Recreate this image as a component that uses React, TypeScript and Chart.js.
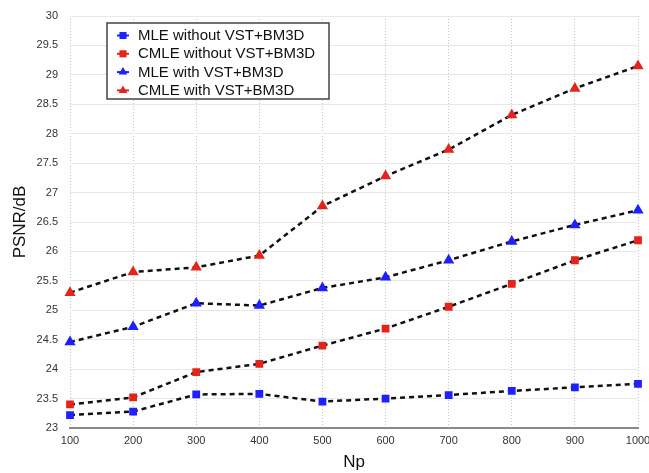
import React, { useEffect, useRef } from 'react';
import { Chart, registerables } from 'chart.js';

Chart.register(...registerables);

const npLabels = ['100', '200', '300', '400', '500', '600', '700', '800', '900', '1000'];
const mleWithout = [23.22, 23.28, 23.57, 23.58, 23.45, 23.5, 23.56, 23.63, 23.69, 23.75];
const cmleWithout = [23.4, 23.52, 23.95, 24.09, 24.4, 24.69, 25.06, 25.45, 25.85, 26.19];
const mleWith = [24.46, 24.72, 25.12, 25.08, 25.38, 25.56, 25.85, 26.17, 26.45, 26.7];
const cmleWith = [25.3, 25.65, 25.73, 25.93, 26.77, 27.28, 27.73, 28.32, 28.77, 29.15];
const seriesNames = ['MLE without VST+BM3D', 'CMLE without VST+BM3D', 'MLE with VST+BM3D', 'CMLE with VST+BM3D'];

const BLUE = '#1f1fff';
const RED = '#e4231b';
const FONT = '"Liberation Sans", Arial, Helvetica, sans-serif';

function drawMarker(ctx: CanvasRenderingContext2D, style: string, x: number, y: number, r: number, color: string) {
  ctx.fillStyle = color;
  ctx.beginPath();
  if (style === 'rect') {
    const s = r * Math.SQRT1_2;
    ctx.rect(x - s, y - s, 2 * s, 2 * s);
  } else {
    ctx.moveTo(x, y - r);
    ctx.lineTo(x + r * 0.866, y + r * 0.5);
    ctx.lineTo(x - r * 0.866, y + r * 0.5);
    ctx.closePath();
  }
  ctx.fill();
}

const boxLegend = {
  id: 'boxLegend',
  afterDraw(chart: any) {
    const ctx: CanvasRenderingContext2D = chart.ctx;
    const x0 = 107, y0 = 23, w = 222, h = 76;
    ctx.save();
    ctx.fillStyle = '#ffffff';
    ctx.fillRect(x0, y0, w, h);
    ctx.strokeStyle = '#444444';
    ctx.lineWidth = 1.5;
    ctx.strokeRect(x0, y0, w, h);
    chart.data.datasets.forEach((ds: any, i: number) => {
      const cy = y0 + 12.5 + i * 18.3;
      const cx = 123;
      ctx.strokeStyle = ds.pointBackgroundColor;
      ctx.lineWidth = 2;
      ctx.beginPath();
      ctx.moveTo(cx - 6, cy);
      ctx.lineTo(cx + 6, cy);
      ctx.stroke();
      drawMarker(ctx, ds.pointStyle, cx, cy, 5, ds.pointBackgroundColor);
      ctx.fillStyle = '#111111';
      ctx.font = `15px ${FONT}`;
      ctx.textAlign = 'left';
      ctx.textBaseline = 'middle';
      ctx.fillText(ds.label, 138, cy + 0.5);
    });
    ctx.restore();
  },
};

function makeDataset(label: string, data: number[], color: string, style: string) {
  return {
    label,
    data,
    borderColor: '#111111',
    borderWidth: 2.5,
    borderDash: [5, 4],
    pointStyle: style,
    pointRadius: style === 'rect' ? 5.5 : 6.5,
    pointBackgroundColor: color,
    pointBorderColor: color,
    pointBorderWidth: 0,
    fill: false,
    tension: 0,
  };
}

export default function App() {
  const canvasRef = useRef<HTMLCanvasElement | null>(null);

  useEffect(() => {
    document.body.style.margin = '0';
    const canvas = canvasRef.current;
    if (!canvas) return;
    const chart = new Chart(canvas, {
      type: 'line',
      data: {
        labels: npLabels,
        datasets: [
          makeDataset(seriesNames[0], mleWithout, BLUE, 'rect'),
          makeDataset(seriesNames[1], cmleWithout, RED, 'rect'),
          makeDataset(seriesNames[2], mleWith, BLUE, 'triangle'),
          makeDataset(seriesNames[3], cmleWith, RED, 'triangle'),
        ] as any,
      },
      options: {
        animation: false,
        responsive: false,
        maintainAspectRatio: false,
        layout: { padding: { top: 16, right: 11, left: 0, bottom: 0 } },
        plugins: {
          legend: { display: false },
          tooltip: { enabled: false },
        },
        scales: {
          x: {
            offset: false,
            grid: {
              color: '#c4c4c4',
              lineWidth: 1,
              drawTicks: false,
            },
            border: { display: true, color: '#8a8a8a', width: 2, dash: [1, 2] } as any,
            ticks: {
              color: '#333333',
              font: { family: FONT, size: 11 },
              padding: 6,
              autoSkip: false,
              maxRotation: 0,
            },
            title: {
              display: true,
              text: 'Np',
              color: '#111111',
              font: { family: FONT, size: 17 },
              padding: { top: 4, bottom: 0 },
            },
            afterFit: (s: any) => {
              s.height = 45;
              s.paddingLeft = 0;
              s.paddingRight = 0;
            },
          },
          y: {
            min: 23,
            max: 30,
            grid: { color: '#e8e8e8', lineWidth: 1, drawTicks: false },
            border: { display: false },
            ticks: {
              stepSize: 0.5,
              color: '#333333',
              font: { family: FONT, size: 11 },
              padding: 12,
              callback: (v: any) => String(Number(v)),
            },
            title: {
              display: true,
              text: 'PSNR/dB',
              color: '#111111',
              font: { family: FONT, size: 17 },
              padding: { top: 10, bottom: 4 },
            },
            afterFit: (s: any) => {
              s.width = 70;
              s.paddingTop = 0;
              s.paddingBottom = 0;
            },
          },
        },
      },
      plugins: [boxLegend] as any,
    });
    return () => chart.destroy();
  }, []);

  return (
    <div style={{ width: 649, height: 473 }}>
      <canvas ref={canvasRef} width={649} height={473} style={{ width: 649, height: 473, display: 'block' }} />
    </div>
  );
}
